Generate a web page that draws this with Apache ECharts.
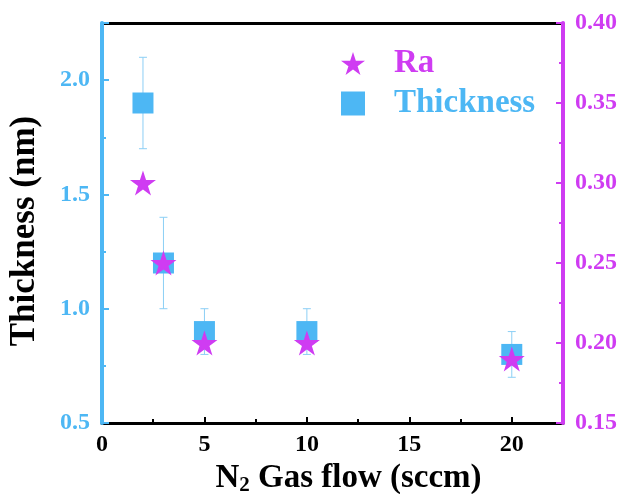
<!DOCTYPE html>
<html>
<head>
<meta charset="utf-8">
<script src="https://cdn.jsdelivr.net/npm/echarts@6/dist/echarts.min.js"></script>
<style>
  html, body { margin: 0; padding: 0; background: #fff; }
  #chart { width: 626px; height: 494px; }
</style>
</head>
<body>
<div id="chart"></div>
<script>
  // gas flow (sccm)
  var flow = [2, 3, 5, 10, 20];
  // thickness (nm) and its error range
  var thickness = [1.9, 1.2, 0.9, 0.9, 0.8];
  var thickLow = [1.7, 1.0, 0.8, 0.8, 0.7];
  var thickHigh = [2.1, 1.4, 1.0, 1.0, 0.9];
  // roughness Ra (right axis)
  var ra = [0.30, 0.25, 0.20, 0.20, 0.19];

  var blue = '#4db7f4';
  var magenta = '#cf3cf2';
  var font = 'Liberation Serif';
  var star = 'path://M50 0L61.23 34.55L97.55 34.55L68.17 55.9L79.39 90.45L50 69.1L20.61 90.45L31.83 55.9L2.45 34.55L38.77 34.55Z';

  var thickData = [], errData = [], raData = [];
  for (var i = 0; i < flow.length; i++) {
    thickData.push([flow[i], thickness[i]]);
    errData.push([flow[i], thickLow[i], thickHigh[i]]);
    raData.push([flow[i], ra[i]]);
  }

  var chart = echarts.init(document.getElementById('chart'));
  var option = {
    animation: false,
    textStyle: { fontFamily: font, fontWeight: 'bold' },
    grid: { left: 102, right: 63, top: 23, bottom: 71, outerBoundsMode: 'none', containLabel: false },
    legend: {
      orient: 'vertical',
      left: 336,
      top: 42,
      itemWidth: 24,
      itemHeight: 24,
      itemGap: 7,
      textStyle: { fontFamily: font, fontWeight: 'bold', fontSize: 33, padding: [0, 0, 0, 24] },
      data: [
        { name: 'Ra', icon: star, textStyle: { color: magenta } },
        { name: 'Thickness', icon: 'rect', textStyle: { color: blue } }
      ]
    },
    xAxis: [{
      type: 'value',
      min: 0, max: 22.5, interval: 5,
      position: 'bottom',
      name: '{a|N}{s|2}{a| Gas flow (sccm)}',
      nameLocation: 'middle',
      nameGap: 27,
      nameTextStyle: {
        padding: [0, 0, 0, 32],
        rich: {
          a: { fontFamily: font, fontWeight: 'bold', fontSize: 33, color: '#000' },
          s: { fontFamily: font, fontWeight: 'bold', fontSize: 21, color: '#000', verticalAlign: 'bottom', padding: [15, 0, 0, 0] }
        }
      },
      axisLine: { onZero: false, lineStyle: { color: '#000', width: 3 } },
      axisTick: { inside: true, length: 6, lineStyle: { color: '#000', width: 2 } },
      minorTick: { show: true, splitNumber: 2, length: 4, lineStyle: { color: '#000', width: 2 } },
      splitLine: { show: false },
      axisLabel: { showMaxLabel: false, margin: 10, color: '#000', fontFamily: font, fontWeight: 'bold', fontSize: 24 }
    }, {
      type: 'value',
      min: 0, max: 22.5,
      position: 'top',
      axisLine: { onZero: false, lineStyle: { color: '#000', width: 3 } },
      axisTick: { show: false },
      axisLabel: { show: false },
      splitLine: { show: false }
    }],
    yAxis: [{
      type: 'value',
      min: 0.5, max: 2.25, interval: 0.5,
      position: 'left',
      z: 5,
      name: 'Thickness (nm)',
      nameLocation: 'middle',
      nameGap: 60,
      nameTextStyle: { fontFamily: font, fontWeight: 'bold', fontSize: 35, color: '#000', padding: [0, 16, 0, 0] },
      axisLine: { show: true, onZero: false, lineStyle: { color: blue, width: 4 } },
      axisTick: { inside: true, length: 7, lineStyle: { color: blue, width: 2 } },
      minorTick: { show: true, splitNumber: 2, length: 4, lineStyle: { color: blue, width: 2 } },
      splitLine: { show: false },
      axisLabel: {
        showMaxLabel: false, margin: 12, color: blue, fontFamily: font, fontWeight: 'bold', fontSize: 24,
        formatter: function (v) { return v.toFixed(1); }
      }
    }, {
      type: 'value',
      min: 0.15, max: 0.40, interval: 0.05,
      position: 'right',
      z: 5,
      axisLine: { show: true, onZero: false, lineStyle: { color: magenta, width: 4 } },
      axisTick: { inside: true, length: 7, lineStyle: { color: magenta, width: 2 } },
      minorTick: { show: true, splitNumber: 2, length: 4, lineStyle: { color: magenta, width: 2 } },
      splitLine: { show: false },
      axisLabel: {
        margin: 12, color: magenta, fontFamily: font, fontWeight: 'bold', fontSize: 24,
        formatter: function (v) { return v.toFixed(2); }
      }
    }],
    series: [{
      name: 'error',
      type: 'custom',
      yAxisIndex: 0,
      z: 1,
      data: errData,
      renderItem: function (params, api) {
        var x = api.value(0);
        var lo = api.coord([x, api.value(1)]);
        var hi = api.coord([x, api.value(2)]);
        var w = 4;
        var st = { stroke: '#8ccff5', lineWidth: 1 };
        return {
          type: 'group',
          children: [
            { type: 'line', shape: { x1: lo[0], y1: lo[1], x2: hi[0], y2: hi[1] }, style: st },
            { type: 'line', shape: { x1: hi[0] - w, y1: hi[1], x2: hi[0] + w, y2: hi[1] }, style: st },
            { type: 'line', shape: { x1: lo[0] - w, y1: lo[1], x2: lo[0] + w, y2: lo[1] }, style: st }
          ]
        };
      }
    }, {
      name: 'Thickness',
      type: 'scatter',
      yAxisIndex: 0,
      z: 2,
      symbol: 'rect',
      symbolSize: 21,
      itemStyle: { color: blue, opacity: 1 },
      data: thickData
    }, {
      name: 'Ra',
      type: 'scatter',
      yAxisIndex: 1,
      z: 3,
      symbol: star,
      symbolSize: [26, 25],
      itemStyle: { color: magenta, opacity: 1 },
      data: raData
    }]
  };
  chart.setOption(option);
</script>
</body>
</html>
